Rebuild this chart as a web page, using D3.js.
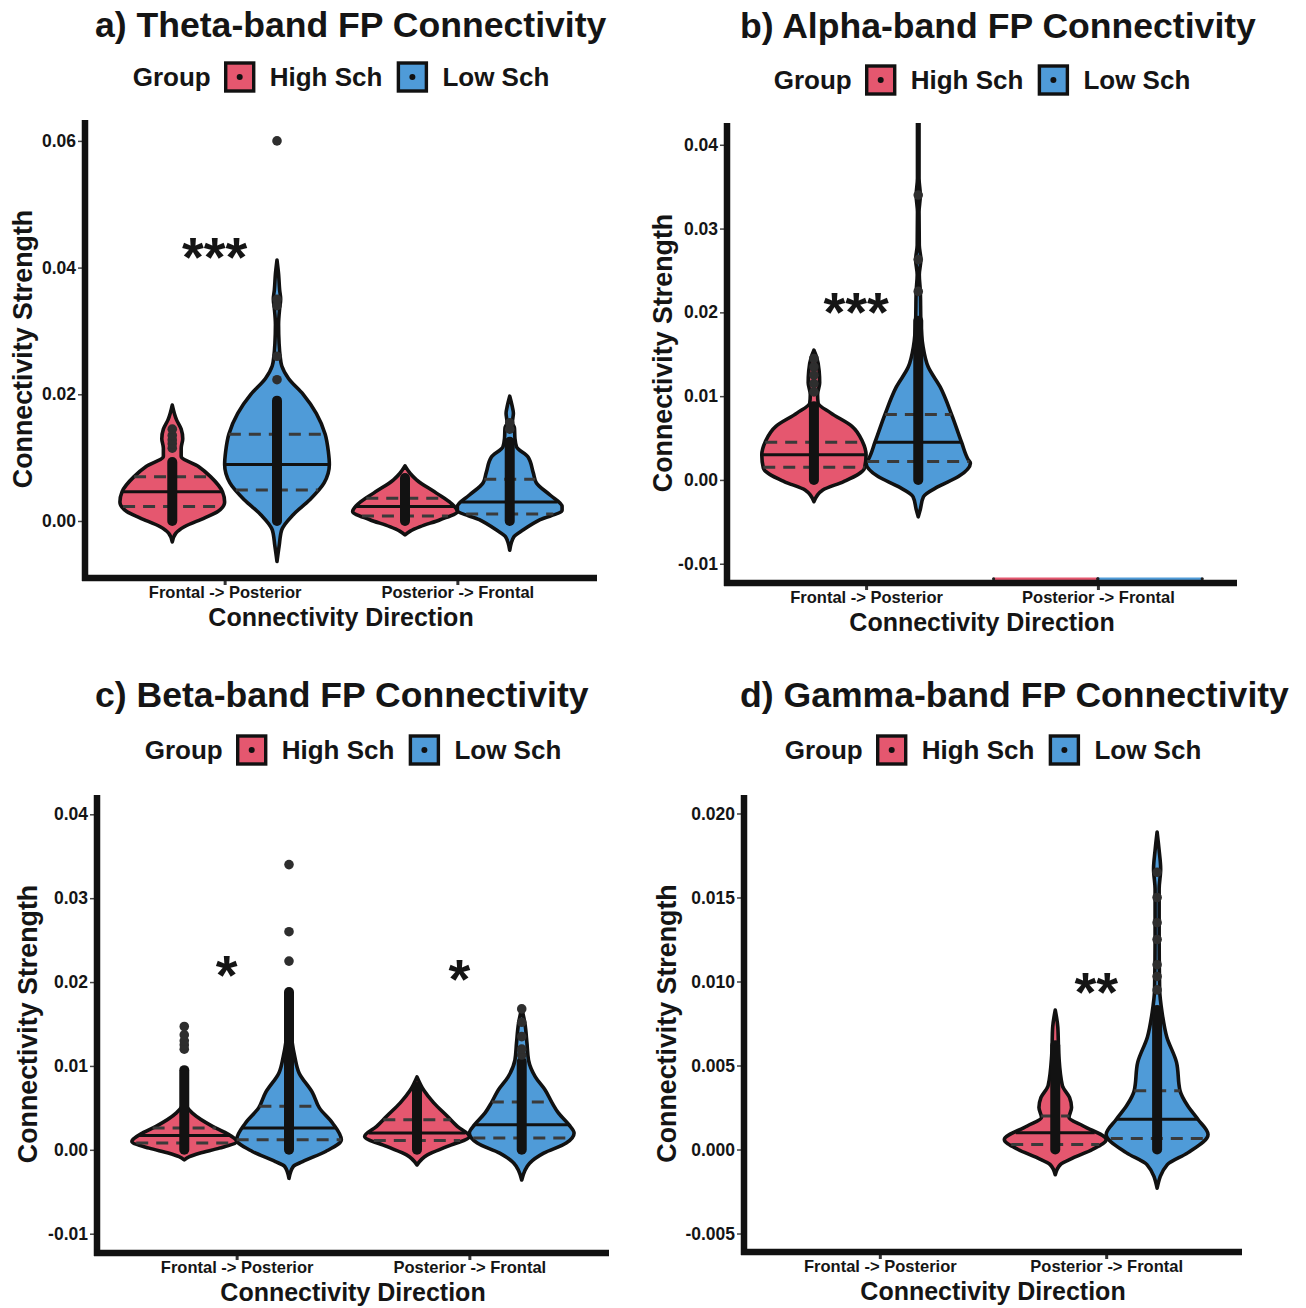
<!DOCTYPE html>
<html>
<head>
<meta charset="utf-8">
<script src="https://cdn.jsdelivr.net/npm/d3@7"></script>
<style>
  body { margin: 0; background: #fff; }
  svg text { font-family: 'Liberation Sans', Arial, Helvetica, sans-serif; font-weight: bold; fill: #151515; }
</style>
</head>
<body>
<svg id="chart" width="1306" height="1308"></svg>
<script>
// ---------------- data ----------------
const directions = ['Frontal -> Posterior', 'Posterior -> Frontal']
const groups = ['High Sch', 'Low Sch']
const groupColors = ['#E5576F', '#4F9BD8']

// y tick values per panel
const thetaTicks = [0, 0.02, 0.04, 0.06]
const alphaTicks = [-0.01, 0, 0.01, 0.02, 0.03, 0.04]
const betaTicks = [-0.01, 0, 0.01, 0.02, 0.03, 0.04]
const gammaTicks = [-0.005, 0, 0.005, 0.01, 0.015, 0.02]

// violin outlines: [value, relative half width]
const thetaHighFP = [[0.0183, 0], [0.016, 0.08], [0.0145, 0.17], [0.013, 0.2], [0.0115, 0.17], [0.0102, 0.17], [0.0086, 0.5], [0.007, 0.73], [0.0046, 0.96], [0.003, 1], [0.0015, 0.87], [0.0005, 0.62], [-0.0009, 0.23], [-0.0019, 0.07], [-0.0033, 0]]
const thetaLowFP = [[0.0412, 0], [0.039, 0.03], [0.0365, 0.05], [0.035, 0.07], [0.0335, 0.05], [0.031, 0.03], [0.028, 0.04], [0.026, 0.06], [0.0245, 0.09], [0.0225, 0.22], [0.02, 0.5], [0.017, 0.75], [0.0137, 0.92], [0.011, 0.98], [0.0089, 1], [0.006, 0.9], [0.0033, 0.62], [0.001, 0.31], [-0.0014, 0.09], [-0.004, 0.04], [-0.0064, 0]]
const thetaHighPF = [[0.0087, 0], [0.0075, 0.1], [0.0065, 0.22], [0.0044, 0.6], [0.0028, 0.88], [0.0015, 1], [0.0002, 0.67], [-0.0009, 0.29], [-0.0016, 0.1], [-0.0022, 0]]
const thetaLowPF = [[0.0197, 0], [0.018, 0.05], [0.017, 0.07], [0.0155, 0.05], [0.0147, 0.09], [0.013, 0.1], [0.0117, 0.13], [0.0101, 0.35], [0.0076, 0.45], [0.006, 0.51], [0.0041, 0.77], [0.0023, 1], [0.0017, 1], [0.0002, 0.58], [-0.0014, 0.26], [-0.0025, 0.08], [-0.0046, 0]]
const thetaQuartiles = [[0.0023, 0.0046, 0.007], [0.0049, 0.0089, 0.0137], [0.0008, 0.0023, 0.0036], [0.0011, 0.003, 0.0066]]
const thetaPointRuns = [[0, 0.0093], [0, 0.019], [0, 0.0068], [0, 0.0125]]
const thetaPoints = [[0.0115, 0.0122, 0.0128, 0.0135, 0.0145], [0.0223, 0.026, 0.034, 0.035, 0.06], [], [0.0145, 0.0155]]
const thetaSignif = [['Frontal -> Posterior', '***', 0.0436]]

const alphaHighFP = [[0.0155, 0], [0.0147, 0.05], [0.013, 0.1], [0.0116, 0.11], [0.0102, 0.07], [0.0092, 0.08], [0.008, 0.32], [0.0064, 0.73], [0.0046, 0.93], [0.003, 1], [0.0014, 0.97], [-0.0002, 0.57], [-0.0012, 0.17], [-0.0026, 0]]
const alphaLowFP = [[0.046, 0.015], [0.036, 0.015], [0.034, 0.04], [0.032, 0.015], [0.028, 0.02], [0.0263, 0.05], [0.0245, 0.02], [0.0225, 0.04], [0.019, 0.05], [0.016, 0.09], [0.0135, 0.19], [0.0111, 0.42], [0.0078, 0.64], [0.0045, 0.83], [0.0024, 0.96], [0.002, 1], [0.0004, 0.77], [-0.0008, 0.38], [-0.002, 0.1], [-0.0035, 0.04], [-0.0044, 0]]
const alphaHighPF = [[-0.0118, 1]]
const alphaLowPF = [[-0.0118, 1]]
const alphaQuartiles = [[0.0015, 0.003, 0.0045], [0.0022, 0.0045, 0.0078]]
const alphaPointRuns = [[0, 0.0088], [0, 0.019]]
const alphaPoints = [[0.0105, 0.0115, 0.0125, 0.0135, 0.0145], [0.0225, 0.0263, 0.034]]
const alphaSignif = [['Frontal -> Posterior', '***', 0.0215]]

const betaHighFP = [[0.0056, 0], [0.0044, 0.15], [0.0028, 0.54], [0.002, 0.8], [0.001, 1], [0.0002, 0.67], [-0.0004, 0.29], [-0.0008, 0.1], [-0.0012, 0]]
const betaLowFP = [[0.016, 0], [0.0111, 0.11], [0.0092, 0.19], [0.0068, 0.45], [0.005, 0.58], [0.0032, 0.83], [0.0012, 1], [-0.0002, 0.7], [-0.0014, 0.26], [-0.002, 0.08], [-0.0034, 0]]
const betaHighPF = [[0.0087, 0], [0.0071, 0.13], [0.0056, 0.32], [0.004, 0.58], [0.0028, 0.77], [0.0016, 1], [0.0004, 0.58], [-0.0006, 0.2], [-0.0018, 0]]
const betaLowPF = [[0.0169, 0], [0.0151, 0.06], [0.0127, 0.1], [0.0107, 0.13], [0.0087, 0.26], [0.0071, 0.45], [0.0056, 0.58], [0.0044, 0.7], [0.003, 0.9], [0.002, 1], [0.0008, 0.85], [-0.0004, 0.42], [-0.0016, 0.15], [-0.0036, 0]]
const betaQuartiles = [[0.0008, 0.0017, 0.0026], [0.0012, 0.0026, 0.0052], [0.0011, 0.002, 0.0036], [0.0014, 0.003, 0.0057]]
const betaPointRuns = [[0, 0.0095], [0, 0.0188], [0, 0.0075], [0, 0.0105]]
const betaPoints = [[0.012, 0.0125, 0.013, 0.0137, 0.0147], [0.0225, 0.026, 0.034], [], [0.0113, 0.012, 0.0135, 0.0152, 0.0168]]
const betaSignif = [['Frontal -> Posterior', '*', 0.0223], ['Posterior -> Frontal', '*', 0.0218]]

const gammaHighPF = [[0.0083, 0], [0.0073, 0.05], [0.0056, 0.07], [0.0038, 0.14], [0.0031, 0.28], [0.0025, 0.32], [0.0019, 0.27], [0.0014, 0.55], [0.0006, 1], [0, 0.73], [-0.0005, 0.35], [-0.0009, 0.1], [-0.0015, 0]]
const gammaLowPF = [[0.0189, 0], [0.0178, 0.04], [0.0167, 0.07], [0.0155, 0.04], [0.0125, 0.04], [0.0095, 0.05], [0.0081, 0.1], [0.0067, 0.19], [0.0052, 0.38], [0.0035, 0.45], [0.0026, 0.6], [0.0018, 0.8], [0.0009, 1], [-0.0002, 0.6], [-0.0009, 0.2], [-0.0023, 0]]
const gammaQuartiles = [[0.0003, 0.001, 0.002], [0.00065, 0.0018, 0.0035]]
const gammaPointRuns = [[0, 0.0062], [0, 0.0083]]
const gammaPoints = [[], [0.0095, 0.0103, 0.011, 0.0125, 0.0135, 0.015, 0.0165]]
const gammaSignif = [['Posterior -> Frontal', '**', 0.0101]]

// ---------------- panels ----------------
const panels = [
  {
    title: 'a) Theta-band FP Connectivity',
    box: { x0: 85, x1: 597, y0: 120, y1: 578 },
    titleX: 95, titleY: 37, legendY: 77, yTitleX: 22,
    yDomain: [-0.009, 0.0633], yTicks: thetaTicks, digits: 2,
    violins: [
      { dir: 0, grp: 0, profile: thetaHighFP, q: thetaQuartiles[0], run: thetaPointRuns[0], pts: thetaPoints[0] },
      { dir: 0, grp: 1, profile: thetaLowFP, q: thetaQuartiles[1], run: thetaPointRuns[1], pts: thetaPoints[1] },
      { dir: 1, grp: 0, profile: thetaHighPF, q: thetaQuartiles[2], run: thetaPointRuns[2], pts: thetaPoints[2] },
      { dir: 1, grp: 1, profile: thetaLowPF, q: thetaQuartiles[3], run: thetaPointRuns[3], pts: thetaPoints[3] }
    ],
    signif: thetaSignif
  },
  {
    title: 'b) Alpha-band FP Connectivity',
    box: { x0: 727, x1: 1237, y0: 123, y1: 583 },
    titleX: 740, titleY: 38, legendY: 80, yTitleX: 662,
    yDomain: [-0.0123, 0.0426], yTicks: alphaTicks, digits: 2,
    violins: [
      { dir: 0, grp: 0, profile: alphaHighFP, q: alphaQuartiles[0], run: alphaPointRuns[0], pts: alphaPoints[0] },
      { dir: 0, grp: 1, profile: alphaLowFP, q: alphaQuartiles[1], run: alphaPointRuns[1], pts: alphaPoints[1] },
      { dir: 1, grp: 0, profile: alphaHighPF },
      { dir: 1, grp: 1, profile: alphaLowPF }
    ],
    signif: alphaSignif
  },
  {
    title: 'c) Beta-band FP Connectivity',
    box: { x0: 97, x1: 609, y0: 795, y1: 1253 },
    titleX: 95, titleY: 707, legendY: 750, yTitleX: 27,
    yDomain: [-0.0123, 0.0423], yTicks: betaTicks, digits: 2,
    violins: [
      { dir: 0, grp: 0, profile: betaHighFP, q: betaQuartiles[0], run: betaPointRuns[0], pts: betaPoints[0] },
      { dir: 0, grp: 1, profile: betaLowFP, q: betaQuartiles[1], run: betaPointRuns[1], pts: betaPoints[1] },
      { dir: 1, grp: 0, profile: betaHighPF, q: betaQuartiles[2], run: betaPointRuns[2], pts: betaPoints[2] },
      { dir: 1, grp: 1, profile: betaLowPF, q: betaQuartiles[3], run: betaPointRuns[3], pts: betaPoints[3] }
    ],
    signif: betaSignif
  },
  {
    title: 'd) Gamma-band FP Connectivity',
    box: { x0: 744, x1: 1242, y0: 795, y1: 1252 },
    titleX: 740, titleY: 707, legendY: 750, yTitleX: 666,
    yDomain: [-0.0061, 0.0211], yTicks: gammaTicks, digits: 3,
    violins: [
      { dir: 1, grp: 0, profile: gammaHighPF, q: gammaQuartiles[0], run: gammaPointRuns[0], pts: gammaPoints[0] },
      { dir: 1, grp: 1, profile: gammaLowPF, q: gammaQuartiles[1], run: gammaPointRuns[1], pts: gammaPoints[1] }
    ],
    signif: gammaSignif
  }
]

const svg = d3.select('#chart')

panels.forEach((p, i) => drawPanel(p, i))

// Relative half width of a violin at a given value (linear between read points).
function widthAt (profile, v) {
  for (let k = 0; k < profile.length - 1; k++) {
    const [va, wa] = profile[k]
    const [vb, wb] = profile[k + 1]
    if (v <= va && v >= vb) return wa + (wb - wa) * (va - v) / (va - vb)
  }
  return 0
}

function drawPanel (p, idx) {
  const b = p.box
  const g = svg.append('g')

  const x = d3.scalePoint().domain(directions).range([b.x0, b.x1]).padding(0.6)
  const y = d3.scaleLinear().domain(p.yDomain).range([b.y1, b.y0])
  const dodge = x.step() * 0.225
  const halfMax = x.step() * 0.225

  // title
  g.append('text')
    .attr('x', p.titleX).attr('y', p.titleY)
    .style('font-size', '35.6px')
    .text(p.title)

  // legend, centred over the plot area
  const leg = g.append('g')
  let cursor = 0
  const gtext = leg.append('text').attr('x', 0).attr('y', 0).attr('dy', '0.36em')
    .style('font-size', '26px').text('Group')
  cursor += gtext.node().getComputedTextLength() + 15
  groups.forEach((name, k) => {
    leg.append('rect')
      .attr('x', cursor).attr('y', -14).attr('width', 28).attr('height', 28)
      .attr('fill', groupColors[k]).attr('stroke', '#111').attr('stroke-width', 3.4)
    leg.append('circle').attr('cx', cursor + 14).attr('cy', 0).attr('r', 3).attr('fill', '#111')
    cursor += 28 + 16
    const t = leg.append('text').attr('x', cursor).attr('y', 0).attr('dy', '0.36em')
      .style('font-size', '26px').text(name)
    cursor += t.node().getComputedTextLength() + (k === 0 ? 16 : 0)
  })
  leg.attr('transform', `translate(${(b.x0 + b.x1) / 2 - cursor / 2},${p.legendY})`)

  // clip for marks
  svg.append('clipPath').attr('id', `clip${idx}`)
    .append('rect').attr('x', b.x0).attr('y', b.y0).attr('width', b.x1 - b.x0).attr('height', b.y1 - b.y0)
  const marks = g.append('g').attr('clip-path', `url(#clip${idx})`)

  p.violins.forEach(v => {
    const cx = x(directions[v.dir]) + (v.grp === 0 ? -dodge : dodge)
    const color = groupColors[v.grp]

    if (v.profile.length === 1) {
      // collapsed violin sitting on the axis
      const yy = y(v.profile[0][0])
      marks.append('line')
        .attr('x1', cx - halfMax).attr('x2', cx + halfMax).attr('y1', yy).attr('y2', yy)
        .attr('stroke', color).attr('stroke-width', 2.5)
      ;[-1, 1].forEach(s => marks.append('circle')
        .attr('cx', cx + s * halfMax).attr('cy', yy).attr('r', 1.6).attr('fill', '#222'))
      return
    }

    const area = d3.area()
      .curve(d3.curveMonotoneY)
      .y(d => y(d[0]))
      .x0(d => cx - d[1] * halfMax)
      .x1(d => cx + d[1] * halfMax)

    marks.append('path')
      .attr('d', area(v.profile))
      .attr('fill', color)
      .attr('stroke', '#111')
      .attr('stroke-width', 3.6)
      .attr('stroke-linejoin', 'round')

    // quartile lines
    v.q.forEach((qv, k) => {
      const w = widthAt(v.profile, qv) * halfMax
      marks.append('line')
        .attr('x1', cx - w).attr('x2', cx + w)
        .attr('y1', y(qv)).attr('y2', y(qv))
        .attr('stroke', k === 1 ? '#111' : '#3a3a3a')
        .attr('stroke-width', 3)
        .attr('stroke-dasharray', k === 1 ? null : '12,8')
    })

    // dense run of overlapping points
    marks.append('line')
      .attr('x1', cx).attr('x2', cx)
      .attr('y1', y(v.run[0])).attr('y2', y(v.run[1]))
      .attr('stroke', '#121212').attr('stroke-width', 10).attr('stroke-linecap', 'round')

    marks.selectAll(null).data(v.pts).join('circle')
      .attr('cx', cx).attr('cy', d => y(d)).attr('r', 4.8)
      .attr('fill', '#2e2e2e')
  })

  // significance stars
  g.selectAll(null).data(p.signif).join('text')
    .attr('x', d => x(d[0]) - 10)
    .attr('y', d => y(d[2]))
    .attr('dy', '0.56em')
    .attr('text-anchor', 'middle')
    .style('font-size', '56px')
    .text(d => d[1])

  // y axis
  const yAxis = d3.axisLeft(y).tickValues(p.yTicks).tickSize(4).tickPadding(2)
    .tickFormat(d => d.toFixed(p.digits))
  const ya = g.append('g').attr('transform', `translate(${b.x0 - 3},0)`).call(yAxis)
  ya.select('.domain').remove()
  ya.selectAll('.tick line').attr('stroke', '#444').attr('stroke-width', 1.5)
  ya.selectAll('.tick text').attr('fill', '#151515')
    .style('font-size', '17.5px').style('font-family', "'Liberation Sans', Arial, sans-serif").style('font-weight', 'bold')

  // x axis
  const xAxis = d3.axisBottom(x).tickSize(4).tickPadding(1.3)
  const xa = g.append('g').attr('transform', `translate(0,${b.y1 + 3})`).call(xAxis)
  xa.select('.domain').remove()
  xa.selectAll('.tick line').attr('stroke', '#333').attr('stroke-width', 3)
  xa.selectAll('.tick text').attr('fill', '#151515')
    .style('font-size', '16.5px').style('font-family', "'Liberation Sans', Arial, sans-serif").style('font-weight', 'bold')

  // axis lines
  g.append('line').attr('x1', b.x0).attr('x2', b.x0).attr('y1', b.y0).attr('y2', b.y1 + 3)
    .attr('stroke', '#111').attr('stroke-width', 6.5)
  g.append('line').attr('x1', b.x0 - 3).attr('x2', b.x1).attr('y1', b.y1).attr('y2', b.y1)
    .attr('stroke', '#111').attr('stroke-width', 6.5)

  // axis titles
  g.append('text')
    .attr('transform', `translate(${p.yTitleX},${(b.y0 + b.y1) / 2}) rotate(-90)`)
    .attr('text-anchor', 'middle').attr('dy', '0.36em')
    .style('font-size', '26.8px')
    .text('Connectivity Strength')
  g.append('text')
    .attr('x', (b.x0 + b.x1) / 2).attr('y', b.y1 + 48)
    .attr('text-anchor', 'middle')
    .style('font-size', '25px')
    .text('Connectivity Direction')
}
</script>
</body>
</html>
